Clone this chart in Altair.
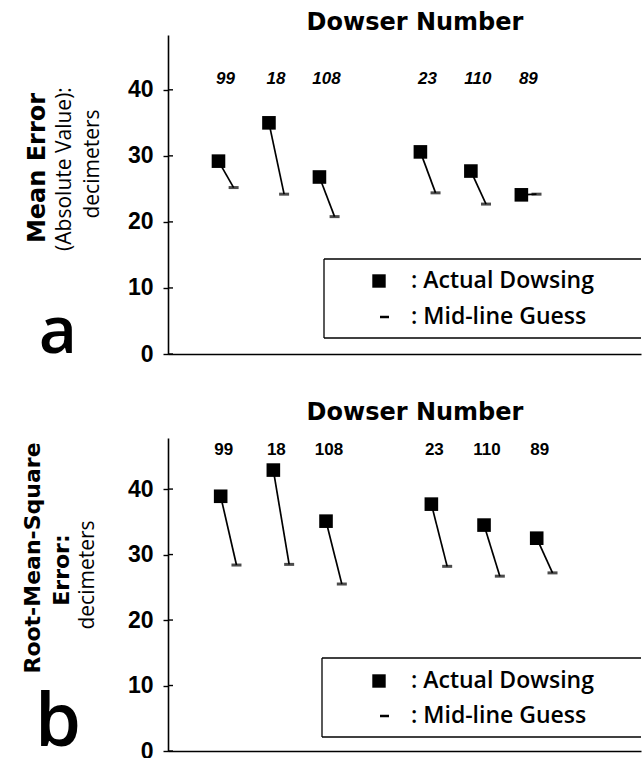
import altair as alt
import pandas as pd

# ---- data ----
dowsers = ["99", "18", "108", "23", "110", "89"]
slots = [1, 2, 3, 5, 6, 7]
mean_actual = [29.2, 35.0, 26.8, 30.6, 27.7, 24.1]
mean_guess = [25.2, 24.2, 20.8, 24.4, 22.7, 24.2]
rms_actual = [38.9, 42.9, 35.1, 37.7, 34.5, 32.5]
rms_guess = [28.4, 28.5, 25.5, 28.2, 26.7, 27.2]
y_ticks = [0, 10, 20, 30, 40]
GUESS_SHIFT = 0.3

W = 473
HEAVY = "DejaVu Sans"
NUM = "Liberation Sans"
SANS = "Open Sans"


def note(text, x, y, **kw):
    return alt.Chart(pd.DataFrame({"t": [text]})).mark_text(color="black", **kw).encode(
        text="t:N", x=alt.value(x), y=alt.value(y))


def seg(x1, x2, y1, y2, color="black", width=1.3):
    return alt.Chart(pd.DataFrame({"d": [0]})).mark_rule(color=color, strokeWidth=width).encode(
        x=alt.value(x1), x2=alt.value(x2), y=alt.value(y1), y2=alt.value(y2))


def square_note(x, y):
    return alt.Chart(pd.DataFrame({"d": [0]})).mark_square(size=180, color="black", opacity=1).encode(
        x=alt.value(x), y=alt.value(y))


def panel(actual, guess, ymax, h, xmax, italic, label_dx, label_y, title_y,
          ylines, letter, letter_y, letter_size, box, rows, anchor):
    df = pd.DataFrame({"dowser": dowsers, "slot": slots, "actual": actual, "guess": guess})
    df["gslot"] = df["slot"] + GUESS_SHIFT

    xs = alt.Scale(domain=[0, xmax], nice=False, zero=True)
    xaxis = alt.Axis(title=None, labels=False, ticks=False, grid=False,
                     domainColor="black", domainWidth=1.6)
    ys = alt.Scale(domain=[0, ymax], nice=False, zero=True)
    yaxis = alt.Axis(title=None, values=y_ticks, grid=False, domainColor="black",
                     domainWidth=1.6, tickColor="black", tickWidth=1.4, tickSize=5,
                     labelFont=NUM, labelFontSize=23, labelFontWeight="bold",
                     labelColor="black", labelPadding=10)

    base = alt.Chart(df)
    X = alt.X("slot:Q", scale=xs, axis=xaxis)
    Y = alt.Y("actual:Q", scale=ys, axis=yaxis)

    lines = base.mark_rule(color="black", strokeWidth=1.7).encode(
        x=X, y=Y, x2="gslot:Q", y2="guess:Q")
    gticks = base.mark_tick(orient="horizontal", size=10, thickness=3, color="black").encode(
        x=alt.X("gslot:Q", scale=xs, axis=xaxis), y=alt.Y("guess:Q", scale=ys, axis=yaxis))
    squares = base.mark_square(size=185, color="black", opacity=1).encode(x=X, y=Y)
    labels = base.mark_text(font=NUM, fontSize=17, fontWeight="bold",
                            fontStyle="italic" if italic else "normal",
                            dx=label_dx, baseline="middle", color="black").encode(
        x=X, y=alt.value(label_y), text="dowser:N")
    inner = alt.Chart(pd.DataFrame({"v": y_ticks})).mark_rule(color="black", strokeWidth=1.4).encode(
        y=alt.Y("v:Q", scale=ys, axis=yaxis), x=alt.value(0), x2=alt.value(5))

    bl, bt, bb = box
    r1, r2 = rows
    legend = [
        seg(bl, W, bt, bt), seg(bl, W, bb, bb), seg(bl, bl, bt, bb),
        square_note(211, r1),
        note(": Actual Dowsing", 243, r1, font=SANS, fontSize=23, fontWeight=600,
             align="left", baseline="middle"),
        seg(212, 221, r2, r2, width=2.5),
        note(": Mid-line Guess", 243, r2, font=SANS, fontSize=23, fontWeight=600,
             align="left", baseline="middle"),
    ]

    ann = [note("Dowser Number", 247, title_y, font=HEAVY, fontSize=24, fontWeight="bold",
                align="center", baseline="middle")]
    for text, x, y, font, size, weight in ylines:
        ann.append(note(text, x, y, font=font, fontSize=size, fontWeight=weight, angle=270,
                        align="center", baseline="middle"))
    ann.append(note(letter, -110, letter_y, font=SANS, fontSize=letter_size, fontWeight=600,
                    align="center", baseline="alphabetic"))

    a_top, a_bottom = anchor
    anchors = [seg(-167.5, -167.5, a_top, a_bottom, color="white", width=1)]

    return alt.layer(*anchors, *legend, lines, gticks, squares, labels, inner, *ann).properties(
        width=W, height=h)


top = panel(mean_actual, mean_guess, 48.3, 319, 9.37, True, 7, 44, -12,
            [("Mean Error", -130, 133, HEAVY, 24, "bold"),
             ("(Absolute Value):", -103, 134, SANS, 21, "normal"),
             ("decimeters", -75, 129, SANS, 21, "normal")],
            "a", 318, 66, (156, 224, 303), (246, 282), (-34, 332))

bottom = panel(rms_actual, rms_guess, 47.8, 313, 8.98, False, 3, 12, -25,
               [("Root-Mean-Square", -135, 120, HEAVY, 22, "bold"),
                ("Error:", -106, 132, HEAVY, 22, "bold"),
                ("decimeters", -80, 137, SANS, 21, "normal")],
               "b", 308, 74, (154, 220, 299), (243, 278), (-69, 0))

chart = alt.vconcat(top, bottom, spacing=0).properties(padding=0).configure_view(stroke=None)

chart.save("out.html", embed_options={"renderer": "svg", "actions": False})
